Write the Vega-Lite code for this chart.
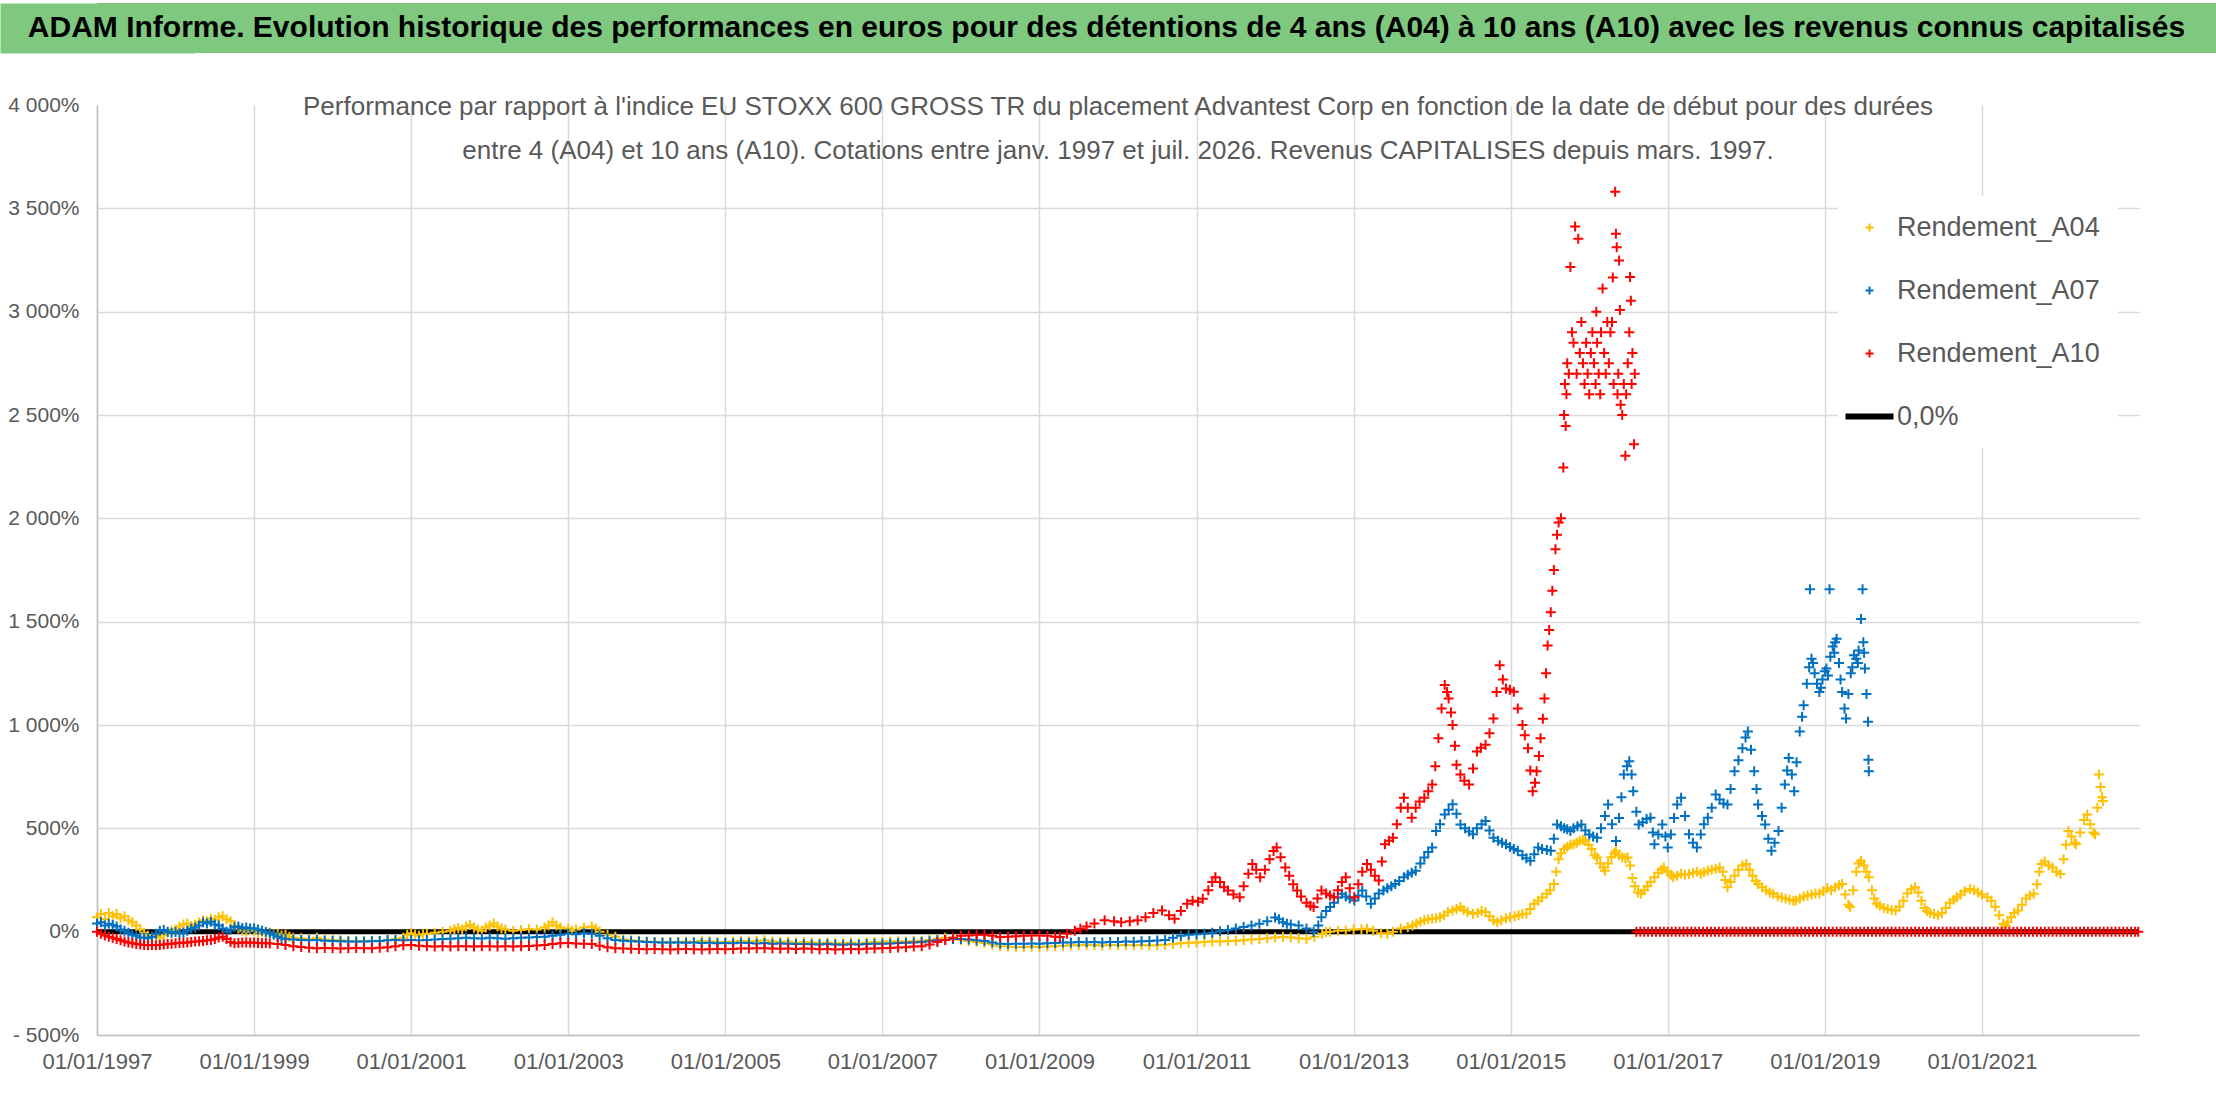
{
  "$schema": "https://vega.github.io/schema/vega-lite/v6.json",
  "padding": {"top": 3, "left": 0, "right": 0, "bottom": 0},
  "spacing": 41,
  "background": "white",
  "config": {
    "font": "Liberation Sans, sans-serif",
    "view": {"stroke": null},
    "axis": {
      "labelFont": "Liberation Sans, sans-serif",
      "labelColor": "#595959",
      "gridColor": "#D9D9D9",
      "gridWidth": 1.5,
      "domainColor": "#BFBFBF",
      "domainWidth": 1.5,
      "ticks": false,
      "title": null
    }
  },
  "datasets": {
    "zero": [{"t": 1997, "v": 0}, {"t": 2023, "v": 0}],
    "a04": [
      {"t":1997.00,"v":70},{"t":1997.05,"v":85},{"t":1997.10,"v":60},{"t":1997.15,"v":90},{"t":1997.20,"v":75},{"t":1997.25,"v":85},{"t":1997.30,"v":65},{"t":1997.35,"v":75},{"t":1997.40,"v":55},{"t":1997.45,"v":45},
      {"t":1997.50,"v":30},{"t":1997.55,"v":10},{"t":1997.60,"v":-5},{"t":1997.65,"v":-20},{"t":1997.70,"v":-25},{"t":1997.75,"v":-20},{"t":1997.80,"v":-28},{"t":1997.85,"v":-15},{"t":1997.90,"v":-5},{"t":1997.95,"v":5},
      {"t":1998.00,"v":10},{"t":1998.05,"v":25},{"t":1998.10,"v":35},{"t":1998.15,"v":40},{"t":1998.20,"v":28},{"t":1998.25,"v":35},{"t":1998.30,"v":45},{"t":1998.35,"v":55},{"t":1998.40,"v":50},{"t":1998.45,"v":62},
      {"t":1998.50,"v":58},{"t":1998.55,"v":70},{"t":1998.60,"v":75},{"t":1998.65,"v":60},{"t":1998.70,"v":50},{"t":1998.75,"v":30},{"t":1998.80,"v":15},{"t":1998.85,"v":5},{"t":1998.90,"v":0},{"t":1998.95,"v":10},
      {"t":1999.00,"v":5},{"t":1999.05,"v":-5},{"t":1999.10,"v":0},{"t":1999.15,"v":-10},{"t":1999.20,"v":-5},{"t":1999.25,"v":-12},{"t":1999.30,"v":-10},{"t":1999.35,"v":-18},{"t":1999.40,"v":-15},{"t":1999.45,"v":-25},
      {"t":1999.50,"v":-30},{"t":1999.60,"v":-32},{"t":1999.70,"v":-35},{"t":1999.80,"v":-30},{"t":1999.90,"v":-38},{"t":2000.00,"v":-40},{"t":2000.10,"v":-42},{"t":2000.20,"v":-45},{"t":2000.30,"v":-48},{"t":2000.40,"v":-46},
      {"t":2000.50,"v":-44},{"t":2000.60,"v":-45},{"t":2000.70,"v":-40},{"t":2000.80,"v":-35},{"t":2000.90,"v":-30},{"t":2000.95,"v":-15},{"t":2001.00,"v":-8},{"t":2001.05,"v":-15},{"t":2001.10,"v":-20},{"t":2001.15,"v":-12},
      {"t":2001.20,"v":-10},{"t":2001.30,"v":-5},{"t":2001.40,"v":0},{"t":2001.50,"v":5},{"t":2001.55,"v":12},{"t":2001.60,"v":18},{"t":2001.65,"v":10},{"t":2001.70,"v":25},{"t":2001.75,"v":32},{"t":2001.80,"v":20},
      {"t":2001.85,"v":10},{"t":2001.90,"v":5},{"t":2001.95,"v":20},{"t":2002.00,"v":30},{"t":2002.05,"v":40},{"t":2002.10,"v":25},{"t":2002.15,"v":15},{"t":2002.20,"v":10},{"t":2002.30,"v":5},{"t":2002.40,"v":8},
      {"t":2002.50,"v":12},{"t":2002.60,"v":10},{"t":2002.70,"v":20},{"t":2002.75,"v":30},{"t":2002.80,"v":45},{"t":2002.85,"v":30},{"t":2002.90,"v":20},{"t":2003.00,"v":15},{"t":2003.05,"v":5},{"t":2003.10,"v":10},
      {"t":2003.20,"v":20},{"t":2003.30,"v":25},{"t":2003.35,"v":15},{"t":2003.40,"v":0},{"t":2003.50,"v":-15},{"t":2003.60,"v":-25},{"t":2003.70,"v":-38},{"t":2003.80,"v":-42},{"t":2003.90,"v":-45},{"t":2004.00,"v":-48},
      {"t":2004.10,"v":-50},{"t":2004.20,"v":-52},{"t":2004.30,"v":-53},{"t":2004.40,"v":-50},{"t":2004.50,"v":-48},{"t":2004.60,"v":-50},{"t":2004.70,"v":-45},{"t":2004.80,"v":-47},{"t":2004.90,"v":-50},{"t":2005.00,"v":-50},
      {"t":2005.10,"v":-48},{"t":2005.20,"v":-44},{"t":2005.30,"v":-46},{"t":2005.40,"v":-45},{"t":2005.50,"v":-42},{"t":2005.60,"v":-48},{"t":2005.70,"v":-50},{"t":2005.80,"v":-47},{"t":2005.90,"v":-52},{"t":2006.00,"v":-50},
      {"t":2006.10,"v":-53},{"t":2006.20,"v":-55},{"t":2006.30,"v":-52},{"t":2006.40,"v":-56},{"t":2006.50,"v":-55},{"t":2006.60,"v":-53},{"t":2006.70,"v":-57},{"t":2006.80,"v":-52},{"t":2006.90,"v":-50},{"t":2007.00,"v":-50},
      {"t":2007.10,"v":-48},{"t":2007.20,"v":-46},{"t":2007.30,"v":-47},{"t":2007.40,"v":-45},{"t":2007.50,"v":-44},{"t":2007.60,"v":-40},{"t":2007.70,"v":-35},{"t":2007.80,"v":-30},{"t":2007.90,"v":-35},{"t":2008.00,"v":-40},
      {"t":2008.10,"v":-45},{"t":2008.20,"v":-50},{"t":2008.30,"v":-55},{"t":2008.40,"v":-62},{"t":2008.50,"v":-70},{"t":2008.60,"v":-72},{"t":2008.70,"v":-75},{"t":2008.80,"v":-74},{"t":2008.90,"v":-73},{"t":2009.00,"v":-74},
      {"t":2009.10,"v":-72},{"t":2009.20,"v":-70},{"t":2009.30,"v":-68},{"t":2009.40,"v":-66},{"t":2009.50,"v":-66},{"t":2009.60,"v":-64},{"t":2009.70,"v":-66},{"t":2009.80,"v":-67},{"t":2009.90,"v":-65},{"t":2010.00,"v":-66},
      {"t":2010.10,"v":-64},{"t":2010.20,"v":-66},{"t":2010.30,"v":-65},{"t":2010.40,"v":-67},{"t":2010.50,"v":-66},{"t":2010.60,"v":-63},{"t":2010.70,"v":-60},{"t":2010.80,"v":-56},{"t":2010.90,"v":-54},{"t":2011.00,"v":-52},
      {"t":2011.10,"v":-50},{"t":2011.20,"v":-48},{"t":2011.30,"v":-47},{"t":2011.40,"v":-45},{"t":2011.50,"v":-44},{"t":2011.60,"v":-42},{"t":2011.70,"v":-38},{"t":2011.80,"v":-35},{"t":2011.90,"v":-32},{"t":2012.00,"v":-28},
      {"t":2012.10,"v":-26},{"t":2012.20,"v":-28},{"t":2012.30,"v":-32},{"t":2012.40,"v":-34},{"t":2012.50,"v":-25},{"t":2012.60,"v":-10},{"t":2012.65,"v":-2},{"t":2012.70,"v":0},{"t":2012.80,"v":4},{"t":2012.90,"v":6},
      {"t":2013.00,"v":10},{"t":2013.10,"v":12},{"t":2013.17,"v":14},{"t":2013.25,"v":5},{"t":2013.35,"v":-8},{"t":2013.43,"v":-10},{"t":2013.50,"v":0},{"t":2013.60,"v":15},{"t":2013.69,"v":22},{"t":2013.75,"v":30},
      {"t":2013.80,"v":40},{"t":2013.85,"v":48},{"t":2013.90,"v":55},{"t":2013.95,"v":60},{"t":2014.00,"v":62},{"t":2014.05,"v":65},{"t":2014.10,"v":70},{"t":2014.15,"v":80},{"t":2014.20,"v":95},{"t":2014.26,"v":103},
      {"t":2014.31,"v":110},{"t":2014.36,"v":119},{"t":2014.40,"v":105},{"t":2014.45,"v":95},{"t":2014.52,"v":87},{"t":2014.58,"v":90},{"t":2014.63,"v":100},{"t":2014.68,"v":95},{"t":2014.73,"v":75},{"t":2014.78,"v":55},
      {"t":2014.83,"v":46},{"t":2014.88,"v":55},{"t":2014.94,"v":65},{"t":2014.99,"v":70},{"t":2015.05,"v":75},{"t":2015.10,"v":80},{"t":2015.15,"v":85},{"t":2015.20,"v":87},{"t":2015.25,"v":110},{"t":2015.30,"v":135},
      {"t":2015.35,"v":150},{"t":2015.40,"v":165},{"t":2015.46,"v":183},{"t":2015.50,"v":200},{"t":2015.55,"v":231},{"t":2015.58,"v":290},{"t":2015.61,"v":350},{"t":2015.64,"v":380},{"t":2015.68,"v":400},{"t":2015.72,"v":410},
      {"t":2015.76,"v":420},{"t":2015.80,"v":423},{"t":2015.84,"v":430},{"t":2015.88,"v":440},{"t":2015.92,"v":445},{"t":2015.95,"v":440},{"t":2015.99,"v":420},{"t":2016.03,"v":400},{"t":2016.07,"v":370},{"t":2016.10,"v":359},
      {"t":2016.14,"v":330},{"t":2016.18,"v":310},{"t":2016.20,"v":295},{"t":2016.24,"v":330},{"t":2016.28,"v":360},{"t":2016.32,"v":380},{"t":2016.34,"v":391},{"t":2016.38,"v":370},{"t":2016.42,"v":360},{"t":2016.46,"v":355},
      {"t":2016.49,"v":359},{"t":2016.52,"v":320},{"t":2016.55,"v":260},{"t":2016.58,"v":220},{"t":2016.62,"v":190},{"t":2016.66,"v":183},{"t":2016.70,"v":200},{"t":2016.74,"v":220},{"t":2016.78,"v":240},{"t":2016.83,"v":263},
      {"t":2016.88,"v":285},{"t":2016.92,"v":300},{"t":2016.95,"v":311},{"t":2017.00,"v":290},{"t":2017.04,"v":275},{"t":2017.07,"v":263},{"t":2017.12,"v":270},{"t":2017.17,"v":280},{"t":2017.22,"v":275},{"t":2017.27,"v":279},
      {"t":2017.32,"v":285},{"t":2017.37,"v":290},{"t":2017.42,"v":280},{"t":2017.46,"v":287},{"t":2017.51,"v":295},{"t":2017.56,"v":300},{"t":2017.61,"v":305},{"t":2017.66,"v":311},{"t":2017.70,"v":290},{"t":2017.73,"v":250},
      {"t":2017.76,"v":215},{"t":2017.80,"v":240},{"t":2017.85,"v":270},{"t":2017.90,"v":300},{"t":2017.95,"v":320},{"t":2018.00,"v":327},{"t":2018.04,"v":300},{"t":2018.08,"v":270},{"t":2018.12,"v":245},{"t":2018.15,"v":231},
      {"t":2018.20,"v":215},{"t":2018.25,"v":200},{"t":2018.30,"v":190},{"t":2018.34,"v":183},{"t":2018.40,"v":170},{"t":2018.45,"v":165},{"t":2018.50,"v":160},{"t":2018.55,"v":155},{"t":2018.60,"v":150},{"t":2018.63,"v":151},
      {"t":2018.68,"v":160},{"t":2018.73,"v":170},{"t":2018.78,"v":175},{"t":2018.83,"v":180},{"t":2018.88,"v":185},{"t":2018.93,"v":183},{"t":2018.98,"v":195},{"t":2019.03,"v":210},{"t":2019.08,"v":200},{"t":2019.13,"v":215},
      {"t":2019.18,"v":225},{"t":2019.22,"v":231},{"t":2019.26,"v":180},{"t":2019.30,"v":130},{"t":2019.32,"v":119},{"t":2019.36,"v":200},{"t":2019.40,"v":290},{"t":2019.43,"v":330},{"t":2019.46,"v":343},{"t":2019.50,"v":320},
      {"t":2019.53,"v":290},{"t":2019.56,"v":263},{"t":2019.60,"v":200},{"t":2019.63,"v":160},{"t":2019.66,"v":135},{"t":2019.70,"v":125},{"t":2019.75,"v":115},{"t":2019.80,"v":110},{"t":2019.85,"v":105},{"t":2019.90,"v":103},
      {"t":2019.95,"v":120},{"t":2020.00,"v":150},{"t":2020.05,"v":185},{"t":2020.10,"v":205},{"t":2020.15,"v":215},{"t":2020.19,"v":190},{"t":2020.23,"v":150},{"t":2020.27,"v":115},{"t":2020.30,"v":100},{"t":2020.34,"v":90},
      {"t":2020.39,"v":85},{"t":2020.44,"v":79},{"t":2020.49,"v":90},{"t":2020.54,"v":115},{"t":2020.59,"v":140},{"t":2020.64,"v":155},{"t":2020.68,"v":167},{"t":2020.73,"v":180},{"t":2020.78,"v":195},{"t":2020.85,"v":207},
      {"t":2020.90,"v":200},{"t":2020.95,"v":190},{"t":2021.00,"v":180},{"t":2021.07,"v":167},{"t":2021.12,"v":150},{"t":2021.17,"v":120},{"t":2021.22,"v":80},{"t":2021.27,"v":38},{"t":2021.30,"v":30},{"t":2021.33,"v":45},
      {"t":2021.37,"v":70},{"t":2021.41,"v":90},{"t":2021.46,"v":103},{"t":2021.51,"v":130},{"t":2021.56,"v":160},{"t":2021.61,"v":175},{"t":2021.66,"v":183},{"t":2021.70,"v":230},{"t":2021.73,"v":290},{"t":2021.76,"v":327},
      {"t":2021.80,"v":340},{"t":2021.85,"v":320},{"t":2021.90,"v":311},{"t":2021.95,"v":290},{"t":2022.00,"v":279},{"t":2022.04,"v":350},{"t":2022.07,"v":420},{"t":2022.10,"v":487},{"t":2022.14,"v":460},{"t":2022.18,"v":430},
      {"t":2022.20,"v":423},{"t":2022.25,"v":480},{"t":2022.30,"v":540},{"t":2022.34,"v":567},{"t":2022.38,"v":520},{"t":2022.42,"v":480},{"t":2022.44,"v":471},{"t":2022.47,"v":600},{"t":2022.49,"v":760},{"t":2022.51,"v":700},
      {"t":2022.53,"v":650},{"t":2022.54,"v":632}
    ],
    "a07": [
      {"t":1997.00,"v":40},{"t":1997.05,"v":45},{"t":1997.10,"v":30},{"t":1997.15,"v":38},{"t":1997.20,"v":32},{"t":1997.25,"v":25},{"t":1997.30,"v":10},{"t":1997.35,"v":5},{"t":1997.40,"v":-5},{"t":1997.45,"v":-15},
      {"t":1997.50,"v":-20},{"t":1997.55,"v":-28},{"t":1997.60,"v":-30},{"t":1997.65,"v":-32},{"t":1997.70,"v":-25},{"t":1997.75,"v":-10},{"t":1997.80,"v":5},{"t":1997.85,"v":8},{"t":1997.90,"v":0},{"t":1997.95,"v":-5},
      {"t":1998.00,"v":-2},{"t":1998.05,"v":-8},{"t":1998.10,"v":-5},{"t":1998.15,"v":5},{"t":1998.20,"v":15},{"t":1998.25,"v":20},{"t":1998.30,"v":30},{"t":1998.35,"v":45},{"t":1998.40,"v":40},{"t":1998.45,"v":48},
      {"t":1998.50,"v":35},{"t":1998.55,"v":30},{"t":1998.60,"v":15},{"t":1998.65,"v":0},{"t":1998.70,"v":10},{"t":1998.75,"v":22},{"t":1998.80,"v":25},{"t":1998.85,"v":18},{"t":1998.90,"v":20},{"t":1998.95,"v":15},
      {"t":1999.00,"v":16},{"t":1999.05,"v":10},{"t":1999.10,"v":5},{"t":1999.15,"v":-2},{"t":1999.20,"v":-8},{"t":1999.25,"v":-15},{"t":1999.30,"v":-25},{"t":1999.35,"v":-32},{"t":1999.40,"v":-35},{"t":1999.50,"v":-38},
      {"t":1999.60,"v":-40},{"t":1999.70,"v":-42},{"t":1999.80,"v":-40},{"t":1999.90,"v":-44},{"t":2000.00,"v":-45},{"t":2000.10,"v":-46},{"t":2000.20,"v":-48},{"t":2000.30,"v":-47},{"t":2000.40,"v":-48},{"t":2000.50,"v":-46},
      {"t":2000.60,"v":-45},{"t":2000.70,"v":-42},{"t":2000.80,"v":-40},{"t":2000.90,"v":-42},{"t":2001.00,"v":-40},{"t":2001.10,"v":-41},{"t":2001.20,"v":-40},{"t":2001.30,"v":-38},{"t":2001.40,"v":-36},{"t":2001.50,"v":-34},
      {"t":2001.60,"v":-32},{"t":2001.70,"v":-30},{"t":2001.80,"v":-32},{"t":2001.90,"v":-33},{"t":2002.00,"v":-30},{"t":2002.10,"v":-32},{"t":2002.20,"v":-34},{"t":2002.30,"v":-32},{"t":2002.40,"v":-30},{"t":2002.50,"v":-28},
      {"t":2002.60,"v":-26},{"t":2002.70,"v":-24},{"t":2002.80,"v":-20},{"t":2002.90,"v":-15},{"t":2003.00,"v":-10},{"t":2003.10,"v":-12},{"t":2003.20,"v":-8},{"t":2003.30,"v":-10},{"t":2003.40,"v":-20},{"t":2003.50,"v":-32},
      {"t":2003.60,"v":-40},{"t":2003.70,"v":-44},{"t":2003.80,"v":-46},{"t":2003.90,"v":-48},{"t":2004.00,"v":-50},{"t":2004.10,"v":-51},{"t":2004.20,"v":-52},{"t":2004.30,"v":-53},{"t":2004.40,"v":-52},{"t":2004.50,"v":-54},
      {"t":2004.60,"v":-53},{"t":2004.70,"v":-55},{"t":2004.80,"v":-54},{"t":2004.90,"v":-56},{"t":2005.00,"v":-55},{"t":2005.10,"v":-56},{"t":2005.20,"v":-54},{"t":2005.30,"v":-55},{"t":2005.40,"v":-57},{"t":2005.50,"v":-55},
      {"t":2005.60,"v":-58},{"t":2005.70,"v":-57},{"t":2005.80,"v":-59},{"t":2005.90,"v":-60},{"t":2006.00,"v":-60},{"t":2006.10,"v":-61},{"t":2006.20,"v":-62},{"t":2006.30,"v":-60},{"t":2006.40,"v":-62},{"t":2006.50,"v":-63},
      {"t":2006.60,"v":-61},{"t":2006.70,"v":-62},{"t":2006.80,"v":-60},{"t":2006.90,"v":-59},{"t":2007.00,"v":-58},{"t":2007.10,"v":-57},{"t":2007.20,"v":-55},{"t":2007.30,"v":-54},{"t":2007.40,"v":-52},{"t":2007.50,"v":-50},
      {"t":2007.60,"v":-46},{"t":2007.70,"v":-42},{"t":2007.80,"v":-40},{"t":2007.90,"v":-36},{"t":2008.00,"v":-35},{"t":2008.10,"v":-38},{"t":2008.20,"v":-42},{"t":2008.30,"v":-45},{"t":2008.40,"v":-52},{"t":2008.50,"v":-58},
      {"t":2008.60,"v":-60},{"t":2008.70,"v":-58},{"t":2008.80,"v":-59},{"t":2008.90,"v":-57},{"t":2009.00,"v":-58},{"t":2009.10,"v":-56},{"t":2009.20,"v":-55},{"t":2009.30,"v":-53},{"t":2009.40,"v":-52},{"t":2009.50,"v":-50},
      {"t":2009.60,"v":-51},{"t":2009.70,"v":-50},{"t":2009.80,"v":-52},{"t":2009.90,"v":-50},{"t":2010.00,"v":-50},{"t":2010.10,"v":-48},{"t":2010.20,"v":-49},{"t":2010.30,"v":-46},{"t":2010.40,"v":-45},{"t":2010.50,"v":-43},
      {"t":2010.60,"v":-40},{"t":2010.70,"v":-30},{"t":2010.80,"v":-20},{"t":2010.90,"v":-15},{"t":2011.00,"v":-12},{"t":2011.10,"v":-10},{"t":2011.20,"v":-5},{"t":2011.30,"v":2},{"t":2011.40,"v":8},{"t":2011.50,"v":15},
      {"t":2011.60,"v":22},{"t":2011.70,"v":30},{"t":2011.80,"v":38},{"t":2011.90,"v":50},{"t":2012.00,"v":68},{"t":2012.05,"v":60},{"t":2012.10,"v":45},{"t":2012.15,"v":38},{"t":2012.20,"v":35},{"t":2012.30,"v":30},
      {"t":2012.40,"v":15},{"t":2012.49,"v":-2},{"t":2012.55,"v":30},{"t":2012.59,"v":70},{"t":2012.65,"v":100},{"t":2012.70,"v":119},{"t":2012.75,"v":140},{"t":2012.80,"v":165},{"t":2012.85,"v":183},{"t":2012.90,"v":170},
      {"t":2012.95,"v":160},{"t":2013.01,"v":151},{"t":2013.06,"v":175},{"t":2013.11,"v":199},{"t":2013.16,"v":170},{"t":2013.22,"v":135},{"t":2013.27,"v":160},{"t":2013.32,"v":185},{"t":2013.38,"v":199},{"t":2013.43,"v":210},
      {"t":2013.48,"v":220},{"t":2013.53,"v":231},{"t":2013.58,"v":245},{"t":2013.64,"v":263},{"t":2013.69,"v":275},{"t":2013.74,"v":285},{"t":2013.79,"v":295},{"t":2013.85,"v":330},{"t":2013.90,"v":359},{"t":2013.95,"v":385},
      {"t":2014.00,"v":407},{"t":2014.05,"v":487},{"t":2014.10,"v":520},{"t":2014.16,"v":567},{"t":2014.21,"v":590},{"t":2014.26,"v":616},{"t":2014.31,"v":570},{"t":2014.36,"v":519},{"t":2014.42,"v":500},{"t":2014.47,"v":485},
      {"t":2014.52,"v":471},{"t":2014.57,"v":500},{"t":2014.63,"v":520},{"t":2014.68,"v":535},{"t":2014.73,"v":490},{"t":2014.78,"v":455},{"t":2014.84,"v":440},{"t":2014.89,"v":430},{"t":2014.94,"v":423},{"t":2014.99,"v":410},
      {"t":2015.04,"v":400},{"t":2015.09,"v":391},{"t":2015.15,"v":370},{"t":2015.20,"v":355},{"t":2015.25,"v":343},{"t":2015.30,"v":375},{"t":2015.35,"v":407},{"t":2015.40,"v":400},{"t":2015.46,"v":395},{"t":2015.51,"v":391},
      {"t":2015.55,"v":450},{"t":2015.59,"v":519},{"t":2015.64,"v":510},{"t":2015.68,"v":500},{"t":2015.72,"v":495},{"t":2015.76,"v":487},{"t":2015.80,"v":500},{"t":2015.85,"v":510},{"t":2015.90,"v":519},{"t":2015.95,"v":490},
      {"t":2016.00,"v":470},{"t":2016.05,"v":460},{"t":2016.10,"v":455},{"t":2016.15,"v":500},{"t":2016.20,"v":560},{"t":2016.24,"v":615},{"t":2016.29,"v":520},{"t":2016.34,"v":439},{"t":2016.38,"v":550},{"t":2016.41,"v":650},
      {"t":2016.44,"v":760},{"t":2016.48,"v":800},{"t":2016.51,"v":824},{"t":2016.54,"v":760},{"t":2016.56,"v":680},{"t":2016.60,"v":580},{"t":2016.63,"v":519},{"t":2016.68,"v":530},{"t":2016.73,"v":545},{"t":2016.78,"v":551},
      {"t":2016.81,"v":480},{"t":2016.83,"v":423},{"t":2016.88,"v":470},{"t":2016.93,"v":519},{"t":2016.97,"v":460},{"t":2017.00,"v":407},{"t":2017.04,"v":470},{"t":2017.08,"v":550},{"t":2017.12,"v":615},{"t":2017.17,"v":648},
      {"t":2017.22,"v":560},{"t":2017.27,"v":471},{"t":2017.32,"v":430},{"t":2017.37,"v":407},{"t":2017.42,"v":470},{"t":2017.46,"v":520},{"t":2017.51,"v":551},{"t":2017.56,"v":600},{"t":2017.61,"v":664},{"t":2017.66,"v":640},
      {"t":2017.71,"v":620},{"t":2017.76,"v":615},{"t":2017.80,"v":690},{"t":2017.85,"v":776},{"t":2017.90,"v":830},{"t":2017.95,"v":888},{"t":2017.99,"v":940},{"t":2018.02,"v":968},{"t":2018.06,"v":880},{"t":2018.10,"v":776},
      {"t":2018.13,"v":690},{"t":2018.15,"v":615},{"t":2018.20,"v":560},{"t":2018.24,"v":519},{"t":2018.28,"v":450},{"t":2018.32,"v":391},{"t":2018.36,"v":430},{"t":2018.41,"v":487},{"t":2018.45,"v":600},{"t":2018.49,"v":712},
      {"t":2018.52,"v":780},{"t":2018.54,"v":840},{"t":2018.58,"v":760},{"t":2018.61,"v":680},{"t":2018.64,"v":820},{"t":2018.68,"v":968},{"t":2018.71,"v":1040},{"t":2018.73,"v":1096},{"t":2018.77,"v":1200},{"t":2018.80,"v":1280},
      {"t":2018.81,"v":1657},{"t":2018.83,"v":1321},{"t":2018.85,"v":1300},{"t":2018.87,"v":1250},{"t":2018.90,"v":1200},{"t":2018.93,"v":1160},{"t":2018.95,"v":1180},{"t":2018.97,"v":1220},{"t":2019.00,"v":1260},{"t":2019.02,"v":1273},
      {"t":2019.04,"v":1240},{"t":2019.06,"v":1657},{"t":2019.07,"v":1330},{"t":2019.10,"v":1380},{"t":2019.12,"v":1350},{"t":2019.13,"v":1400},{"t":2019.15,"v":1417},{"t":2019.18,"v":1300},{"t":2019.20,"v":1220},{"t":2019.22,"v":1160},
      {"t":2019.25,"v":1080},{"t":2019.27,"v":1032},{"t":2019.30,"v":1150},{"t":2019.33,"v":1250},{"t":2019.35,"v":1280},{"t":2019.37,"v":1337},{"t":2019.40,"v":1320},{"t":2019.42,"v":1300},{"t":2019.43,"v":1360},{"t":2019.46,"v":1513},
      {"t":2019.48,"v":1657},{"t":2019.49,"v":1400},{"t":2019.50,"v":1350},{"t":2019.51,"v":1273},{"t":2019.53,"v":1150},{"t":2019.55,"v":1016},{"t":2019.555,"v":832},{"t":2019.56,"v":776}
    ],
    "a10": [
      {"t":1997.00,"v":0},{"t":1997.05,"v":-10},{"t":1997.10,"v":-18},{"t":1997.15,"v":-25},{"t":1997.20,"v":-30},{"t":1997.25,"v":-35},{"t":1997.30,"v":-42},{"t":1997.35,"v":-48},{"t":1997.40,"v":-52},{"t":1997.45,"v":-56},
      {"t":1997.50,"v":-60},{"t":1997.55,"v":-62},{"t":1997.60,"v":-64},{"t":1997.65,"v":-66},{"t":1997.70,"v":-64},{"t":1997.75,"v":-66},{"t":1997.80,"v":-64},{"t":1997.85,"v":-62},{"t":1997.90,"v":-60},{"t":1997.95,"v":-58},
      {"t":1998.00,"v":-56},{"t":1998.05,"v":-55},{"t":1998.10,"v":-54},{"t":1998.15,"v":-52},{"t":1998.20,"v":-50},{"t":1998.25,"v":-48},{"t":1998.30,"v":-46},{"t":1998.35,"v":-45},{"t":1998.40,"v":-42},{"t":1998.45,"v":-40},
      {"t":1998.50,"v":-35},{"t":1998.55,"v":-28},{"t":1998.60,"v":-24},{"t":1998.65,"v":-35},{"t":1998.70,"v":-50},{"t":1998.75,"v":-56},{"t":1998.80,"v":-55},{"t":1998.85,"v":-53},{"t":1998.90,"v":-52},{"t":1998.95,"v":-54},
      {"t":1999.00,"v":-53},{"t":1999.05,"v":-55},{"t":1999.10,"v":-56},{"t":1999.15,"v":-55},{"t":1999.20,"v":-57},{"t":1999.30,"v":-60},{"t":1999.40,"v":-64},{"t":1999.50,"v":-70},{"t":1999.60,"v":-74},{"t":1999.70,"v":-78},
      {"t":1999.80,"v":-80},{"t":1999.90,"v":-79},{"t":2000.00,"v":-80},{"t":2000.10,"v":-81},{"t":2000.20,"v":-80},{"t":2000.30,"v":-79},{"t":2000.40,"v":-80},{"t":2000.50,"v":-80},{"t":2000.60,"v":-78},{"t":2000.70,"v":-75},
      {"t":2000.80,"v":-70},{"t":2000.90,"v":-66},{"t":2001.00,"v":-64},{"t":2001.10,"v":-68},{"t":2001.20,"v":-70},{"t":2001.30,"v":-72},{"t":2001.40,"v":-71},{"t":2001.50,"v":-72},{"t":2001.60,"v":-70},{"t":2001.70,"v":-71},
      {"t":2001.80,"v":-72},{"t":2001.90,"v":-70},{"t":2002.00,"v":-71},{"t":2002.10,"v":-72},{"t":2002.20,"v":-71},{"t":2002.30,"v":-72},{"t":2002.40,"v":-70},{"t":2002.50,"v":-69},{"t":2002.60,"v":-67},{"t":2002.70,"v":-64},
      {"t":2002.80,"v":-60},{"t":2002.90,"v":-56},{"t":2003.00,"v":-55},{"t":2003.10,"v":-57},{"t":2003.20,"v":-58},{"t":2003.30,"v":-60},{"t":2003.40,"v":-68},{"t":2003.50,"v":-75},{"t":2003.60,"v":-80},{"t":2003.70,"v":-82},
      {"t":2003.80,"v":-83},{"t":2003.90,"v":-84},{"t":2004.00,"v":-85},{"t":2004.10,"v":-84},{"t":2004.20,"v":-85},{"t":2004.30,"v":-86},{"t":2004.40,"v":-85},{"t":2004.50,"v":-84},{"t":2004.60,"v":-85},{"t":2004.70,"v":-86},
      {"t":2004.80,"v":-85},{"t":2004.90,"v":-84},{"t":2005.00,"v":-85},{"t":2005.10,"v":-84},{"t":2005.20,"v":-82},{"t":2005.30,"v":-81},{"t":2005.40,"v":-80},{"t":2005.50,"v":-80},{"t":2005.60,"v":-82},{"t":2005.70,"v":-83},
      {"t":2005.80,"v":-82},{"t":2005.90,"v":-84},{"t":2006.00,"v":-82},{"t":2006.10,"v":-83},{"t":2006.20,"v":-85},{"t":2006.30,"v":-84},{"t":2006.40,"v":-86},{"t":2006.50,"v":-85},{"t":2006.60,"v":-84},{"t":2006.70,"v":-85},
      {"t":2006.80,"v":-83},{"t":2006.90,"v":-82},{"t":2007.00,"v":-80},{"t":2007.10,"v":-79},{"t":2007.20,"v":-77},{"t":2007.30,"v":-75},{"t":2007.40,"v":-72},{"t":2007.50,"v":-70},{"t":2007.60,"v":-62},{"t":2007.70,"v":-50},
      {"t":2007.80,"v":-40},{"t":2007.90,"v":-30},{"t":2008.00,"v":-20},{"t":2008.10,"v":-18},{"t":2008.20,"v":-15},{"t":2008.30,"v":-15},{"t":2008.40,"v":-20},{"t":2008.50,"v":-26},{"t":2008.60,"v":-24},{"t":2008.70,"v":-22},
      {"t":2008.80,"v":-20},{"t":2008.90,"v":-19},{"t":2009.00,"v":-18},{"t":2009.10,"v":-20},{"t":2009.20,"v":-24},{"t":2009.26,"v":-26},{"t":2009.35,"v":-10},{"t":2009.45,"v":5},{"t":2009.52,"v":14},{"t":2009.60,"v":25},
      {"t":2009.70,"v":40},{"t":2009.83,"v":55},{"t":2009.95,"v":50},{"t":2010.04,"v":46},{"t":2010.15,"v":50},{"t":2010.25,"v":55},{"t":2010.35,"v":70},{"t":2010.45,"v":90},{"t":2010.56,"v":103},{"t":2010.65,"v":80},
      {"t":2010.72,"v":63},{"t":2010.80,"v":100},{"t":2010.88,"v":135},{"t":2010.95,"v":150},{"t":2011.02,"v":145},{"t":2011.08,"v":159},{"t":2011.15,"v":200},{"t":2011.20,"v":240},{"t":2011.24,"v":263},{"t":2011.30,"v":240},
      {"t":2011.35,"v":215},{"t":2011.40,"v":199},{"t":2011.47,"v":180},{"t":2011.55,"v":167},{"t":2011.60,"v":220},{"t":2011.66,"v":280},{"t":2011.71,"v":327},{"t":2011.76,"v":300},{"t":2011.81,"v":263},{"t":2011.87,"v":300},
      {"t":2011.93,"v":350},{"t":2011.98,"v":390},{"t":2012.02,"v":407},{"t":2012.07,"v":360},{"t":2012.13,"v":311},{"t":2012.18,"v":270},{"t":2012.23,"v":230},{"t":2012.28,"v":199},{"t":2012.33,"v":170},{"t":2012.40,"v":140},
      {"t":2012.45,"v":125},{"t":2012.49,"v":119},{"t":2012.54,"v":160},{"t":2012.59,"v":199},{"t":2012.65,"v":185},{"t":2012.70,"v":175},{"t":2012.75,"v":167},{"t":2012.80,"v":200},{"t":2012.85,"v":240},{"t":2012.90,"v":263},
      {"t":2012.95,"v":210},{"t":2013.01,"v":167},{"t":2013.06,"v":230},{"t":2013.11,"v":290},{"t":2013.17,"v":327},{"t":2013.22,"v":300},{"t":2013.27,"v":270},{"t":2013.32,"v":247},{"t":2013.36,"v":340},{"t":2013.40,"v":423},
      {"t":2013.45,"v":440},{"t":2013.50,"v":455},{"t":2013.55,"v":520},{"t":2013.60,"v":600},{"t":2013.64,"v":648},{"t":2013.69,"v":600},{"t":2013.74,"v":551},{"t":2013.79,"v":600},{"t":2013.84,"v":630},{"t":2013.90,"v":648},
      {"t":2013.95,"v":680},{"t":2014.00,"v":712},{"t":2014.04,"v":800},{"t":2014.08,"v":936},{"t":2014.12,"v":1080},{"t":2014.16,"v":1193},{"t":2014.19,"v":1160},{"t":2014.21,"v":1128},{"t":2014.24,"v":1060},{"t":2014.26,"v":1000},
      {"t":2014.29,"v":900},{"t":2014.31,"v":808},{"t":2014.36,"v":760},{"t":2014.41,"v":730},{"t":2014.47,"v":712},{"t":2014.52,"v":790},{"t":2014.57,"v":872},{"t":2014.62,"v":890},{"t":2014.68,"v":904},{"t":2014.73,"v":960},
      {"t":2014.78,"v":1032},{"t":2014.82,"v":1160},{"t":2014.86,"v":1289},{"t":2014.90,"v":1220},{"t":2014.94,"v":1177},{"t":2014.99,"v":1170},{"t":2015.04,"v":1161},{"t":2015.09,"v":1080},{"t":2015.15,"v":1000},{"t":2015.18,"v":950},
      {"t":2015.22,"v":888},{"t":2015.25,"v":780},{"t":2015.28,"v":680},{"t":2015.31,"v":720},{"t":2015.33,"v":776},{"t":2015.36,"v":850},{"t":2015.38,"v":936},{"t":2015.41,"v":1030},{"t":2015.43,"v":1128},{"t":2015.45,"v":1250},
      {"t":2015.47,"v":1385},{"t":2015.49,"v":1460},{"t":2015.51,"v":1545},{"t":2015.53,"v":1650},{"t":2015.55,"v":1750},{"t":2015.57,"v":1850},{"t":2015.59,"v":1920},{"t":2015.61,"v":1980},{"t":2015.64,"v":2000},{"t":2015.67,"v":2246},
      {"t":2015.68,"v":2500},{"t":2015.69,"v":2650},{"t":2015.70,"v":2447},{"t":2015.71,"v":2600},{"t":2015.72,"v":2750},{"t":2015.74,"v":2700},{"t":2015.76,"v":3216},{"t":2015.78,"v":2900},{"t":2015.80,"v":2850},{"t":2015.82,"v":3412},
      {"t":2015.84,"v":2700},{"t":2015.86,"v":3353},{"t":2015.88,"v":2800},{"t":2015.90,"v":2950},{"t":2015.92,"v":2750},{"t":2015.94,"v":2650},{"t":2015.96,"v":2850},{"t":2015.98,"v":2700},{"t":2016.00,"v":2600},{"t":2016.02,"v":2800},
      {"t":2016.04,"v":2900},{"t":2016.06,"v":2750},{"t":2016.08,"v":2650},{"t":2016.09,"v":3000},{"t":2016.10,"v":2850},{"t":2016.12,"v":2700},{"t":2016.14,"v":2600},{"t":2016.15,"v":2900},{"t":2016.17,"v":3112},{"t":2016.19,"v":2800},
      {"t":2016.21,"v":2700},{"t":2016.23,"v":2950},{"t":2016.25,"v":2750},{"t":2016.27,"v":2900},{"t":2016.29,"v":2950},{"t":2016.30,"v":3165},{"t":2016.31,"v":2650},{"t":2016.33,"v":3580},{"t":2016.34,"v":3377},{"t":2016.35,"v":3312},
      {"t":2016.36,"v":2600},{"t":2016.37,"v":2700},{"t":2016.38,"v":3248},{"t":2016.39,"v":3008},{"t":2016.40,"v":2550},{"t":2016.42,"v":2500},{"t":2016.44,"v":2650},{"t":2016.46,"v":2303},{"t":2016.47,"v":2600},{"t":2016.49,"v":2750},
      {"t":2016.51,"v":2900},{"t":2016.52,"v":3168},{"t":2016.53,"v":3053},{"t":2016.54,"v":2650},{"t":2016.55,"v":2800},{"t":2016.57,"v":2359},{"t":2016.58,"v":2700},
      {"t":2016.60,"v":0},{"t":2016.65,"v":0},{"t":2016.70,"v":0},{"t":2016.75,"v":0},{"t":2016.80,"v":0},{"t":2016.85,"v":0},{"t":2016.90,"v":0},{"t":2016.95,"v":0},
      {"t":2017.00,"v":0},{"t":2017.05,"v":0},{"t":2017.10,"v":0},{"t":2017.15,"v":0},{"t":2017.20,"v":0},{"t":2017.25,"v":0},{"t":2017.30,"v":0},{"t":2017.35,"v":0},{"t":2017.40,"v":0},{"t":2017.45,"v":0},
      {"t":2017.50,"v":0},{"t":2017.55,"v":0},{"t":2017.60,"v":0},{"t":2017.65,"v":0},{"t":2017.70,"v":0},{"t":2017.75,"v":0},{"t":2017.80,"v":0},{"t":2017.85,"v":0},{"t":2017.90,"v":0},{"t":2017.95,"v":0},
      {"t":2018.00,"v":0},{"t":2018.05,"v":0},{"t":2018.10,"v":0},{"t":2018.15,"v":0},{"t":2018.20,"v":0},{"t":2018.25,"v":0},{"t":2018.30,"v":0},{"t":2018.35,"v":0},{"t":2018.40,"v":0},{"t":2018.45,"v":0},
      {"t":2018.50,"v":0},{"t":2018.55,"v":0},{"t":2018.60,"v":0},{"t":2018.65,"v":0},{"t":2018.70,"v":0},{"t":2018.75,"v":0},{"t":2018.80,"v":0},{"t":2018.85,"v":0},{"t":2018.90,"v":0},{"t":2018.95,"v":0},
      {"t":2019.00,"v":0},{"t":2019.05,"v":0},{"t":2019.10,"v":0},{"t":2019.15,"v":0},{"t":2019.20,"v":0},{"t":2019.25,"v":0},{"t":2019.30,"v":0},{"t":2019.35,"v":0},{"t":2019.40,"v":0},{"t":2019.45,"v":0},
      {"t":2019.50,"v":0},{"t":2019.55,"v":0},{"t":2019.60,"v":0},{"t":2019.65,"v":0},{"t":2019.70,"v":0},{"t":2019.75,"v":0},{"t":2019.80,"v":0},{"t":2019.85,"v":0},{"t":2019.90,"v":0},{"t":2019.95,"v":0},
      {"t":2020.00,"v":0},{"t":2020.05,"v":0},{"t":2020.10,"v":0},{"t":2020.15,"v":0},{"t":2020.20,"v":0},{"t":2020.25,"v":0},{"t":2020.30,"v":0},{"t":2020.35,"v":0},{"t":2020.40,"v":0},{"t":2020.45,"v":0},
      {"t":2020.50,"v":0},{"t":2020.55,"v":0},{"t":2020.60,"v":0},{"t":2020.65,"v":0},{"t":2020.70,"v":0},{"t":2020.75,"v":0},{"t":2020.80,"v":0},{"t":2020.85,"v":0},{"t":2020.90,"v":0},{"t":2020.95,"v":0},
      {"t":2021.00,"v":0},{"t":2021.05,"v":0},{"t":2021.10,"v":0},{"t":2021.15,"v":0},{"t":2021.20,"v":0},{"t":2021.25,"v":0},{"t":2021.30,"v":0},{"t":2021.35,"v":0},{"t":2021.40,"v":0},{"t":2021.45,"v":0},
      {"t":2021.50,"v":0},{"t":2021.55,"v":0},{"t":2021.60,"v":0},{"t":2021.65,"v":0},{"t":2021.70,"v":0},{"t":2021.75,"v":0},{"t":2021.80,"v":0},{"t":2021.85,"v":0},{"t":2021.90,"v":0},{"t":2021.95,"v":0},
      {"t":2022.00,"v":0},{"t":2022.05,"v":0},{"t":2022.10,"v":0},{"t":2022.15,"v":0},{"t":2022.20,"v":0},{"t":2022.25,"v":0},{"t":2022.30,"v":0},{"t":2022.35,"v":0},{"t":2022.40,"v":0},{"t":2022.45,"v":0},
      {"t":2022.50,"v":0},{"t":2022.55,"v":0},{"t":2022.60,"v":0},{"t":2022.65,"v":0},{"t":2022.70,"v":0},{"t":2022.75,"v":0},{"t":2022.80,"v":0},{"t":2022.85,"v":0},{"t":2022.90,"v":0},{"t":2022.95,"v":0},{"t":2022.99,"v":0}
    ]
  },
  "vconcat": [
    {
      "width": 2119,
      "height": 50,
      "view": {"fill": "#7EC97F", "stroke": null},
      "data": {"values": [{"titre": "ADAM Informe. Evolution historique des performances en euros pour des détentions de 4 ans (A04) à 10 ans (A10) avec les revenus connus capitalisés"}]},
      "mark": {"type": "text", "font": "Liberation Sans, sans-serif", "fontSize": 30, "fontWeight": "bold", "color": "black", "dx": -50},
      "encoding": {
        "text": {"field": "titre"},
        "y": {
          "field": "titre",
          "type": "nominal",
          "axis": {
            "labels": false,
            "ticks": false,
            "grid": false,
            "domain": true,
            "domainColor": "#7EC97F",
            "domainWidth": 194,
            "minExtent": 97,
            "maxExtent": 97,
            "title": null
          }
        }
      }
    },
    {
      "width": 2042,
      "height": 930,
      "title": {
        "text": [
          "Performance par rapport à l'indice EU STOXX 600 GROSS TR  du placement Advantest Corp en fonction de la date de début pour des durées",
          "entre 4 (A04) et 10 ans (A10). Cotations entre janv. 1997 et juil. 2026. Revenus CAPITALISES depuis mars. 1997."
        ],
        "frame": "group",
        "anchor": "middle",
        "orient": "top",
        "offset": -70,
        "font": "Liberation Sans, sans-serif",
        "fontSize": 26,
        "fontWeight": "normal",
        "color": "#595959",
        "lineHeight": 44
      },
      "encoding": {
        "x": {
          "field": "t",
          "type": "quantitative",
          "scale": {"domain": [1997, 2023], "nice": false, "zero": false},
          "axis": {
            "values": [1997, 1999, 2001, 2003, 2005, 2007, 2009, 2011, 2013, 2015, 2017, 2019, 2021],
            "labelExpr": "'01/01/' + datum.value",
            "labelFontSize": 22,
            "labelPadding": 16,
            "labelFlush": false,
            "labelOverlap": false
          }
        },
        "y": {
          "field": "v",
          "type": "quantitative",
          "scale": {"domain": [-500, 4000], "nice": false},
          "axis": {
            "values": [-500, 0, 500, 1000, 1500, 2000, 2500, 3000, 3500, 4000],
            "labelExpr": "(datum.value < 0 ? '- ' : '') + replace(format(abs(datum.value), ','), ',', ' ') + '%'",
            "labelFontSize": 21,
            "labelPadding": 18,
            "minExtent": 97,
            "maxExtent": 97,
            "gridOpacity": {"condition": {"test": "datum.value === 4000", "value": 0}, "value": 1}
          }
        }
      },
      "layer": [
        {
          "data": {"name": "zero"},
          "mark": {"type": "line", "strokeWidth": 5},
          "encoding": {
            "color": {
              "datum": "0,0%",
              "scale": {
                "domain": ["Rendement_A04", "Rendement_A07", "Rendement_A10", "0,0%"],
                "range": ["#FFC000", "#0070C0", "#FF0000", "#000000"]
              },
              "legend": {
                "orient": "none",
                "legendX": 1741,
                "legendY": 193,
                "fillColor": "white",
                "padding": 18,
                "symbolSize": 2304,
                "labelFont": "Liberation Sans, sans-serif",
                "labelFontSize": 27,
                "labelOffset": 14,
                "rowPadding": 35,
                "labelColor": "#595959",
                "labelLimit": 400,
                "title": null,
                "encode": {
                  "symbols": {
                    "update": {
                      "shape": {"signal": "datum.value === '0,0%' ? 'stroke' : 'M-1,0H1M0,-1V1'"},
                      "size": {"signal": "datum.value === '0,0%' ? 2304 : 64"},
                      "strokeWidth": {"signal": "datum.value === '0,0%' ? 6 : 2"},
                      "stroke": {"signal": "scale('color', datum.value)"},
                      "fill": {"value": "transparent"},
                      "opacity": {"value": 1}
                    }
                  }
                }
              }
            }
          }
        },
        {
          "data": {"name": "a04"},
          "mark": {"type": "point", "shape": "M-1,0H1M0,-1V1", "filled": false, "size": 100, "strokeWidth": 2, "opacity": 1},
          "encoding": {"color": {"datum": "Rendement_A04"}}
        },
        {
          "data": {"name": "a07"},
          "mark": {"type": "point", "shape": "M-1,0H1M0,-1V1", "filled": false, "size": 100, "strokeWidth": 2, "opacity": 1},
          "encoding": {"color": {"datum": "Rendement_A07"}}
        },
        {
          "data": {"name": "a10"},
          "mark": {"type": "point", "shape": "M-1,0H1M0,-1V1", "filled": false, "size": 100, "strokeWidth": 2, "opacity": 1},
          "encoding": {"color": {"datum": "Rendement_A10"}}
        }
      ]
    }
  ]
}
